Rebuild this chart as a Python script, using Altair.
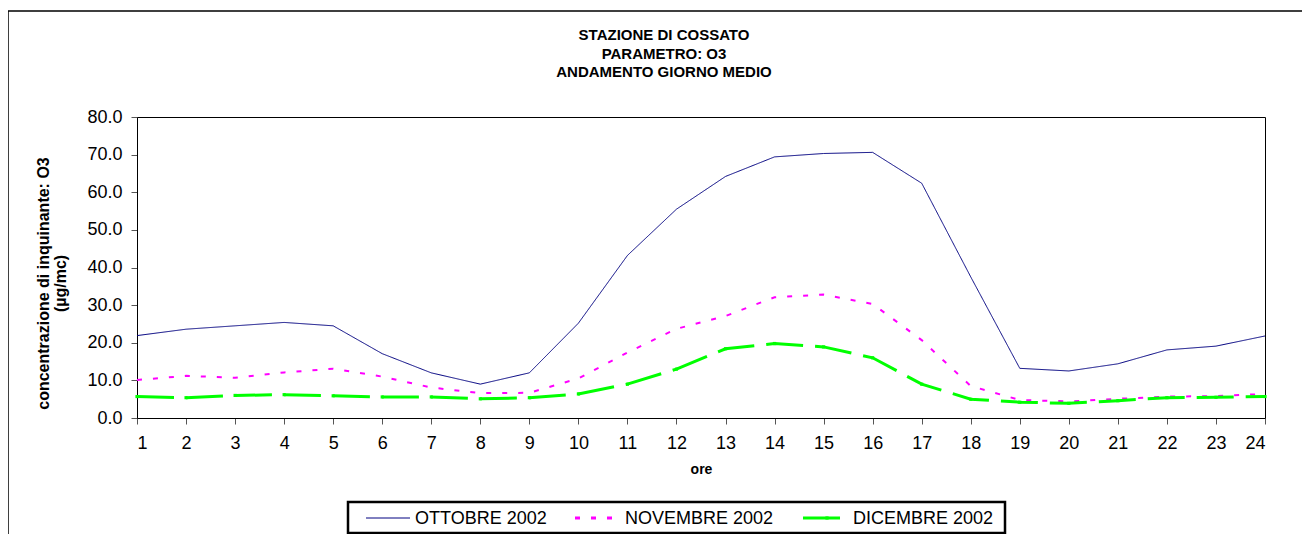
import altair as alt
import pandas as pd

ore = list(range(1, 25))
ottobre = [21.9, 23.6, 24.5, 25.4, 24.5, 17.1, 12.0, 9.0, 12.0, 25.2, 43.2, 55.5,
           64.2, 69.4, 70.3, 70.6, 62.4, 37.5, 13.2, 12.5, 14.4, 18.1, 19.1, 21.8]
novembre = [10.1, 11.2, 10.7, 12.1, 13.1, 11.0, 8.1, 6.6, 6.7, 10.5, 17.4, 23.7,
            27.1, 32.1, 32.8, 30.3, 20.7, 8.5, 4.8, 4.4, 5.1, 5.7, 5.8, 6.4]
dicembre = [5.7, 5.4, 6.0, 6.2, 5.9, 5.6, 5.6, 5.1, 5.4, 6.4, 9.0, 13.0,
            18.4, 19.8, 18.9, 16.0, 9.0, 5.0, 4.2, 3.9, 4.6, 5.4, 5.5, 5.7]
serie = ["OTTOBRE 2002", "NOVEMBRE 2002", "DICEMBRE 2002"]
colori = ["#000080", "#FF00FF", "#00FF00"]
tratti = [[1, 0], [5, 11], [37, 12]]
spessori = [1, 3, 3]
y_ticks = [0, 10, 20, 30, 40, 50, 60, 70, 80]

rows = []
for s, vals in zip(serie, [ottobre, novembre, dicembre]):
    for h, v in zip(ore, vals):
        rows.append({"ore": h, "valore": v, "serie": s})
df = pd.DataFrame(rows)

FONT = "Liberation Sans"
W, H = 1128, 301
PL, PT = 129, 109

x_enc = alt.X("ore:Q", scale=alt.Scale(domain=[1, 24], nice=False, zero=False),
              axis=alt.Axis(values=ore, format="d", title="ore", grid=False,
                            tickSize=6, labelPadding=10, titlePadding=10,
                            labelOverlap=False,
                            labelFontSize=18, titleFontSize=14, titleFontWeight="bold"))
y_enc = alt.Y("valore:Q", scale=alt.Scale(domain=[0, 80], nice=False),
              axis=alt.Axis(values=y_ticks, tickCount=9, format=".1f", grid=False,
                            title=["concentrazione di inquinante: O3", "(µg/mc)"],
                            tickSize=6, labelPadding=9, labelFontSize=18,
                            labelOverlap=False,
                            titleFontSize=16, titleFontWeight="bold",
                            titleAngle=270, titleX=-94, titleY=166,
                            titleAlign="center", titleBaseline="middle",
                            titleLineHeight=17))

lines = alt.Chart(df).mark_line().encode(
    x=x_enc,
    y=y_enc,
    color=alt.Color("serie:N", sort=serie,
                    scale=alt.Scale(domain=serie, range=colori), legend=None),
    strokeDash=alt.StrokeDash("serie:N", sort=serie,
                              scale=alt.Scale(domain=serie, range=tratti), legend=None),
    strokeWidth=alt.StrokeWidth("serie:N", sort=serie,
                                scale=alt.Scale(domain=serie, range=spessori), legend=None),
    detail="serie:N",
)

markers = alt.Chart(df).transform_filter(
    alt.datum.serie == serie[2]
).mark_point(shape="square", filled=True, size=10, opacity=1).encode(
    x=x_enc, y=y_enc, color=alt.value(colori[2])
)

one = pd.DataFrame({"a": [0]})

border = alt.Chart(one).mark_rect(
    fill=None, stroke="black", strokeWidth=1.5
).encode(
    x=alt.value(-129), x2=alt.value(1200), y=alt.value(-106), y2=alt.value(700)
)

# legend (drawn manually so that the line samples are long and the box is framed)
leg_box = alt.Chart(one).mark_rect(fill="white", stroke="black", strokeWidth=2.5).encode(
    x=alt.value(211), x2=alt.value(868), y=alt.value(385), y2=alt.value(416)
)
leg_layers = [leg_box]
leg_pos = [(229, 273, 278), (438, 479, 488), (666, 714, 716)]
for s, c, d, w, (x0, x1, xt) in zip(serie, colori, tratti, spessori, leg_pos):
    leg_layers.append(
        alt.Chart(one).mark_rule(color=c, strokeDash=d, strokeWidth=w).encode(
            x=alt.value(x0), x2=alt.value(x1), y=alt.value(401)
        )
    )
    leg_layers.append(
        alt.Chart(one).mark_text(text=s, align="left", baseline="middle", fontSize=18,
                                 font=FONT, color="black").encode(
            x=alt.value(xt), y=alt.value(402)
        )
    )
leg_layers.append(
    alt.Chart(one).mark_point(shape="square", filled=True, size=10, opacity=1,
                              color=colori[2]).encode(x=alt.value(690), y=alt.value(401))
)

chart = alt.layer(border, lines, markers, *leg_layers).properties(
    width=W, height=H,
    padding={"left": PL, "top": PT, "right": 37, "bottom": 116},
    autosize=alt.AutoSizeParams(type="none"),
    title=alt.Title(["STAZIONE DI COSSATO", "PARAMETRO: O3", "ANDAMENTO GIORNO MEDIO"],
                    fontSize=15, fontWeight="bold", font=FONT, lineHeight=18.5,
                    anchor="middle", dx=-37, offset=0, dy=70, color="black"),
).configure(
    font=FONT,
).configure_view(
    stroke="black", strokeWidth=1
).configure_axis(
    domainColor="black", tickColor="#555", labelColor="black", titleColor="black",
    labelFont=FONT, titleFont=FONT
)

chart.save("out.html", embed_options={"renderer": "svg", "actions": False})
